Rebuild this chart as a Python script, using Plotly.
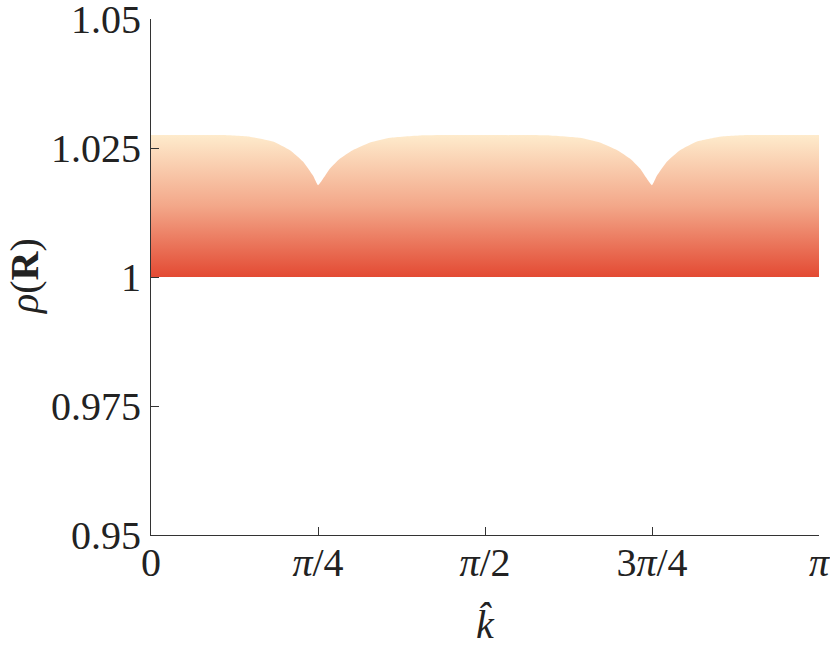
import numpy as np
import plotly.graph_objects as go

# k-hat positions (in units of pi) and upper boundary of rho(R) band
k_over_pi = [0.0, 0.05, 0.108, 0.148, 0.1826, 0.2081, 0.2275, 0.2425, 0.25,
             0.256, 0.268, 0.283, 0.302, 0.328, 0.358, 0.403, 0.5,
             0.597, 0.642, 0.672, 0.698, 0.717, 0.732, 0.744, 0.75,
             0.7575, 0.7725, 0.7919, 0.8174, 0.852, 0.892, 0.95, 1.0]
rho_upper = [1.0275, 1.0275, 1.0275, 1.02719, 1.02627, 1.02458, 1.02238, 1.01965, 1.01777,
             1.01874, 1.02102, 1.02296, 1.02458, 1.02608, 1.02699, 1.02744, 1.0275,
             1.02744, 1.02699, 1.02608, 1.02458, 1.02296, 1.02102, 1.01874, 1.01777,
             1.01965, 1.02238, 1.02458, 1.02627, 1.02719, 1.0275, 1.0275, 1.0275]
rho_lower = 1.0

x_tickvals_over_pi = [0, 0.25, 0.5, 0.75, 1.0]
x_ticktext = ["0", "<i>π</i>/4", "<i>π</i>/2", "3<i>π</i>/4", "<i>π</i>"]
y_tickvals = [0.95, 0.975, 1.0, 1.025, 1.05]
y_ticktext = ["0.95", "0.975", "1", "1.025", "1.05"]

k = np.pi * np.array(k_over_pi)

fig = go.Figure()
fig.add_trace(go.Scatter(x=k, y=[rho_lower] * len(k), mode="lines",
                         line=dict(width=0), showlegend=False, hoverinfo="skip"))
fig.add_trace(go.Scatter(
    x=k, y=rho_upper, mode="lines", fill="tonexty",
    line=dict(width=0, shape="spline", smoothing=0.4),
    fillcolor="rgba(240,150,120,1)",
    fillgradient=dict(type="vertical", start=rho_lower, stop=max(rho_upper),
                      colorscale=[[0, "#E34A33"], [0.5, "#F3A789"], [1, "#FEEBCC"]]),
    showlegend=False, hoverinfo="skip"))

font_family = "Liberation Serif, serif"
fig.update_layout(
    width=830, height=647,
    margin=dict(l=151, r=11, t=19, b=112),
    paper_bgcolor="white", plot_bgcolor="white",
    font=dict(family=font_family, size=40, color="#222222"),
    xaxis=dict(range=[0, np.pi * 1.000001], tickvals=list(np.pi * np.array(x_tickvals_over_pi)),
               ticktext=x_ticktext, ticks="inside", ticklen=8, tickcolor="#333",
               showline=True, linecolor="#333", linewidth=1, showgrid=False,
               zeroline=False, ticklabelstandoff=-8, automargin=False,
               ticklabeloverflow="allow",
               title=dict(text="<i>k̂</i>", standoff=26, font=dict(size=40))),
    yaxis=dict(range=[0.95, 1.050001], tickvals=y_tickvals, ticktext=y_ticktext,
               ticks="inside", ticklen=8, tickcolor="#333",
               showline=True, linecolor="#333", linewidth=1, showgrid=False,
               zeroline=False, ticklabelstandoff=1, automargin=False,
               ticklabeloverflow="allow"),
    annotations=[dict(text="<i>ρ</i>(<b>R</b>)", xref="paper", yref="paper",
                      x=0, y=0.5, xanchor="center", yanchor="middle",
                      xshift=-127, textangle=-90, showarrow=False,
                      font=dict(size=40, family=font_family, color="#222222"))],
)

fig.write_html("out.html", config={"displayModeBar": False},
               post_script="document.body.style.margin='0';document.body.style.overflow='hidden';")
